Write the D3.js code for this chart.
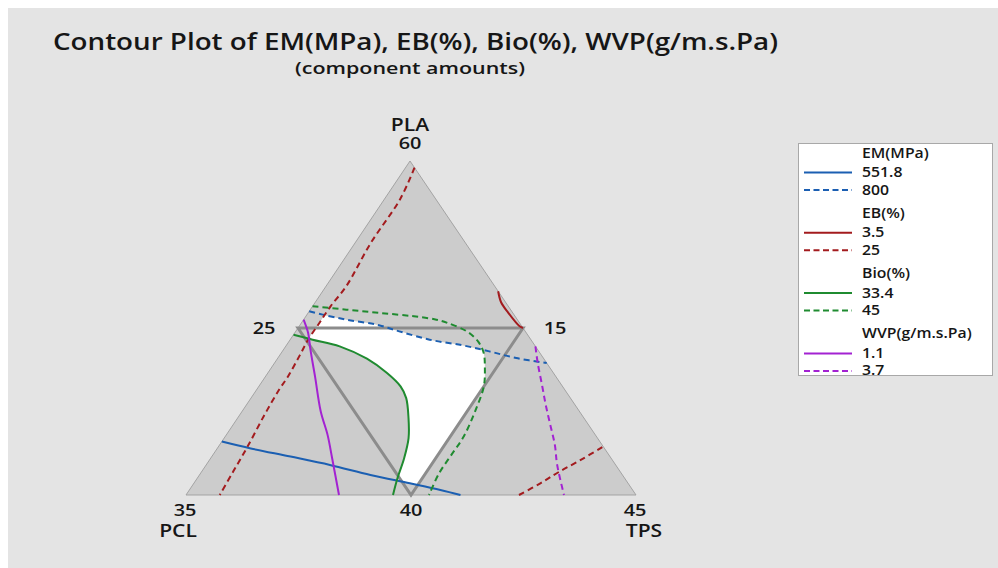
<!DOCTYPE html>
<html>
<head>
<meta charset="utf-8">
<script src="https://cdn.jsdelivr.net/npm/d3@7/dist/d3.min.js"></script>
<style>
  body { margin: 0; background: #fff; }
  svg  { display: block; font-family: "Open Sans", "Noto Sans", sans-serif; }
</style>
</head>
<body>
<svg id="chart" width="998" height="568"></svg>
<script>
// ── Data: component amounts as [PLA, PCL, TPS] ───────────────────────────────
const components   = ['PLA', 'PCL', 'TPS'];
const plaRange     = [40, 60];
const pclRange     = [15, 35];
const tpsRange     = [25, 45];
const vertexLabels = ['60', '35', '45'];

// design region (inner triangle) and its vertex labels
const designPoints = [[50, 25, 25], [50, 15, 35], [40, 25, 35]];
const designLabels = ['25', '15', '40'];

const emLevels  = ['551.8', '800'];
const ebLevels  = ['3.5', '25'];
const bioLevels = ['33.4', '45'];
const wvpLevels = ['1.1', '3.7'];

const em551 = [[43.2,31.8,25.0],[42.8,30.8,26.5],[42.3,29.2,28.5],[41.8,27.7,30.5],[41.2,26.2,32.6],
               [40.7,24.7,34.6],[40.3,23.5,36.1],[40.0,22.8,37.2]];
const em800 = [[51.0,24.0,25.0],[50.8,23.5,25.7],[50.5,22.6,26.9],[50.2,21.4,28.4],[49.8,20.6,29.6],
               [49.3,19.5,31.2],[49.0,18.2,32.9],[48.6,17.2,34.2],[48.2,16.2,35.6],[47.9,15.0,37.1]];
const eb35  = [[52.2,15.0,32.8],[51.6,15.2,33.3],[51.0,15.2,33.9],[50.1,15.1,34.8],[50.0,15.0,35.0]];
const eb25a = [[59.6,15.0,25.4],[57.7,16.6,25.7],[55.1,19.2,25.7],[52.5,21.6,25.9],[51.3,22.9,25.8],
               [50.3,23.9,25.8],[49.3,24.9,25.8],[48.3,25.8,25.9],[47.1,26.9,26.0],[46.3,27.7,26.0],
               [44.8,29.1,26.1],[42.9,30.9,26.3],[41.4,32.2,26.4],[40.0,33.5,26.5]];
const eb25b = [[40.0,20.2,39.8],[40.7,18.9,40.4],[41.4,17.7,40.9],[42.1,16.4,41.5],[42.9,15.0,42.1]];
const bio334 = [[49.6,25.4,25.0],[49.3,24.7,26.0],[48.9,23.7,27.4],[48.2,22.9,29.0],[47.3,22.4,30.3],
                [46.5,22.2,31.3],[45.8,22.3,31.9],[44.6,22.8,32.6],[43.4,23.4,33.2],[42.2,24.2,33.6],
                [41.0,25.1,33.9],[40.0,25.8,34.2]];
const bio45 = [[51.3,23.7,25.0],[51.1,22.3,26.6],[50.9,20.9,28.2],[50.7,19.5,29.8],[50.5,18.6,30.9],
               [50.3,18.2,31.5],[49.8,17.6,32.6],[49.2,17.4,33.4],[48.5,17.5,34.0],[47.6,17.9,34.5],
               [46.5,18.5,35.0],[45.0,19.6,35.3],[43.5,20.9,35.6],[42.4,22.0,35.6],[41.3,23.1,35.6],
               [40.0,24.2,35.8]];
const wvp11 = [[50.5,24.5,25.0],[49.7,24.7,25.6],[48.7,25.1,26.2],[47.1,25.7,27.2],[45.0,26.5,28.5],
               [43.6,26.9,29.5],[42.2,27.4,30.4],[40.0,28.2,31.8]];
const wvp37 = [[48.9,15.0,36.1],[47.9,15.4,36.7],[46.5,15.9,37.6],[45.4,16.3,38.3],[44.2,16.7,39.1],
               [43.0,17.1,39.9],[41.8,17.6,40.6],[40.0,18.2,41.8]];

// ── Config ────────────────────────────────────────────────────────────────────
const SX     = 1.17;                       // picture is stretched horizontally
const INK    = '#161616';
const COLORS = { EM: '#1b5fb2', EB: '#a31b1e', Bio: '#1f8b30', WVP: '#a322d2' };
const DASH   = '6,4';
const CORNER = { PLA: [410, 161], PCL: [186, 495], TPS: [636, 495] };

// corners of the simplex in amounts
const atPLA = [plaRange[1], pclRange[0], tpsRange[0]];
const atPCL = [plaRange[0], pclRange[1], tpsRange[0]];
const atTPS = [plaRange[0], pclRange[0], tpsRange[1]];

const sPLA = d3.scaleLinear().domain(plaRange).range([0, 1]);
const sPCL = d3.scaleLinear().domain(pclRange).range([0, 1]);
const sTPS = d3.scaleLinear().domain(tpsRange).range([0, 1]);

function project([pla, pcl, tps]) {
  let a = sPLA(pla), b = sPCL(pcl), c = sTPS(tps);
  const s = a + b + c;
  a /= s; b /= s; c /= s;
  return [
    a * CORNER.PLA[0] + b * CORNER.PCL[0] + c * CORNER.TPS[0],
    a * CORNER.PLA[1] + b * CORNER.PCL[1] + c * CORNER.TPS[1]
  ];
}

const curve = d3.line()
  .x(d => project(d)[0])
  .y(d => project(d)[1])
  .curve(d3.curveCatmullRom.alpha(0.5));
const poly = pts => 'M' + pts.map(p => project(p).join(',')).join('L') + 'Z';

// each contour + the corners that close its "acceptable" side
const contours = [
  { key: 'EM',  dashed: false, pts: em551,  keep: [atTPS, atPLA] },
  { key: 'EM',  dashed: true,  pts: em800,  keep: [atTPS, atPCL] },
  { key: 'EB',  dashed: false, pts: eb35,   keep: [atTPS, atPCL, atPLA] },
  { key: 'EB',  dashed: true,  pts: eb25a,  keep: [atTPS] },
  { key: 'EB',  dashed: true,  pts: eb25b,  keep: [atPLA, atPCL] },
  { key: 'Bio', dashed: false, pts: bio334, keep: [atTPS, atPLA] },
  { key: 'Bio', dashed: true,  pts: bio45,  keep: [atPCL] },
  { key: 'WVP', dashed: false, pts: wvp11,  keep: [atTPS, atPLA] },
  { key: 'WVP', dashed: true,  pts: wvp37,  keep: [atPCL, atPLA] }
];

const svg = d3.select('#chart');

function addText(sel, x, y, str, size, anchor = 'middle', weight = 600) {
  return sel.append('text')
    .attr('transform', `translate(${x},${y}) scale(${SX},1)`)
    .attr('text-anchor', anchor)
    .attr('font-size', size)
    .attr('font-weight', weight)
    .attr('fill', INK)
    .text(str);
}

// ── Background ────────────────────────────────────────────────────────────────
svg.append('rect').attr('x', 8).attr('y', 8).attr('width', 990).attr('height', 560)
  .attr('fill', '#e4e4e4');

// ── Titles ────────────────────────────────────────────────────────────────────
addText(svg, 53, 50, 'Contour Plot of EM(MPa), EB(%), Bio(%), WVP(g/m.s.Pa)', 23, 'start')
  .attr('textLength', 725 / SX).attr('lengthAdjust', 'spacingAndGlyphs');
addText(svg, 410, 74, '(component amounts)', 17)
  .attr('textLength', 230 / SX).attr('lengthAdjust', 'spacingAndGlyphs');

// ── Simplex ───────────────────────────────────────────────────────────────────
const outer = [atPLA, atPCL, atTPS];
svg.append('path').attr('d', poly(outer))
  .attr('fill', '#cccccc').attr('stroke', '#a3a3a3').attr('stroke-width', 1);

// feasible (white) region: triangle clipped by every contour's acceptable side
const defs = svg.append('defs');
const clips = contours.map(c =>
  curve(c.pts) + c.keep.map(k => 'L' + project(k).join(',')).join('') + 'Z');
// design bound TPS <= 35 (right edge of the design region)
clips.push(poly([designPoints[1], atPLA, atPCL, designPoints[2]]));

let region = svg.append('g');
clips.forEach((d, i) => {
  defs.append('clipPath').attr('id', 'clip' + i).append('path').attr('d', d);
  region = region.append('g').attr('clip-path', `url(#clip${i})`);
});
region.append('path').attr('d', poly(outer)).attr('fill', '#ffffff');

// design region
svg.append('path').attr('d', poly(designPoints))
  .attr('fill', 'none').attr('stroke', '#8c8c8c').attr('stroke-width', 3)
  .attr('stroke-linejoin', 'miter');

// contour lines
svg.append('g').selectAll('path')
  .data(contours)
  .join('path')
  .attr('d', d => curve(d.pts))
  .attr('fill', 'none')
  .attr('stroke', d => COLORS[d.key])
  .attr('stroke-width', 2)
  .attr('stroke-dasharray', d => d.dashed ? DASH : null);

// ── Vertex and axis labels ────────────────────────────────────────────────────
const cornerPts = [atPLA, atPCL, atTPS].map(project);
addText(svg, cornerPts[0][0], 131, components[0], 18);
addText(svg, cornerPts[0][0], 149, vertexLabels[0], 17);
addText(svg, cornerPts[1][0] - 1, 516, vertexLabels[1], 17);
addText(svg, cornerPts[1][0] - 8, 537, components[1], 18);
addText(svg, cornerPts[2][0] - 1, 516, vertexLabels[2], 17);
addText(svg, cornerPts[2][0] + 8, 537, components[2], 18);

const dp = designPoints.map(project);
addText(svg, dp[0][0] - 34, dp[0][1] + 6, designLabels[0], 17);
addText(svg, dp[1][0] + 32, dp[1][1] + 6, designLabels[1], 17);
addText(svg, dp[2][0], dp[2][1] + 21, designLabels[2], 17);

// ── Legend ────────────────────────────────────────────────────────────────────
const legendGroups = [
  { key: 'EM',  name: 'EM(MPa)',       levels: emLevels },
  { key: 'EB',  name: 'EB(%)',         levels: ebLevels },
  { key: 'Bio', name: 'Bio(%)',        levels: bioLevels },
  { key: 'WVP', name: 'WVP(g/m.s.Pa)', levels: wvpLevels }
];

const lg = svg.append('g');
lg.append('rect').attr('x', 798.5).attr('y', 143.5).attr('width', 194).attr('height', 232)
  .attr('fill', '#ffffff').attr('stroke', '#a8a8a8');

legendGroups.forEach((g, gi) => {
  const y0 = 153 + gi * 60.3;
  addText(lg, 862, y0 + 4.5, g.name, 13.5, 'start');
  g.levels.forEach((lv, li) => {
    const y = y0 + 19.5 + li * 17.5;
    lg.append('line')
      .attr('x1', 804).attr('x2', 852).attr('y1', y).attr('y2', y)
      .attr('stroke', COLORS[g.key]).attr('stroke-width', 2)
      .attr('stroke-dasharray', li === 1 ? '6,3.5' : null);
    addText(lg, 862, y + 4.5, lv, 13.5, 'start');
  });
});
</script>
</body>
</html>
